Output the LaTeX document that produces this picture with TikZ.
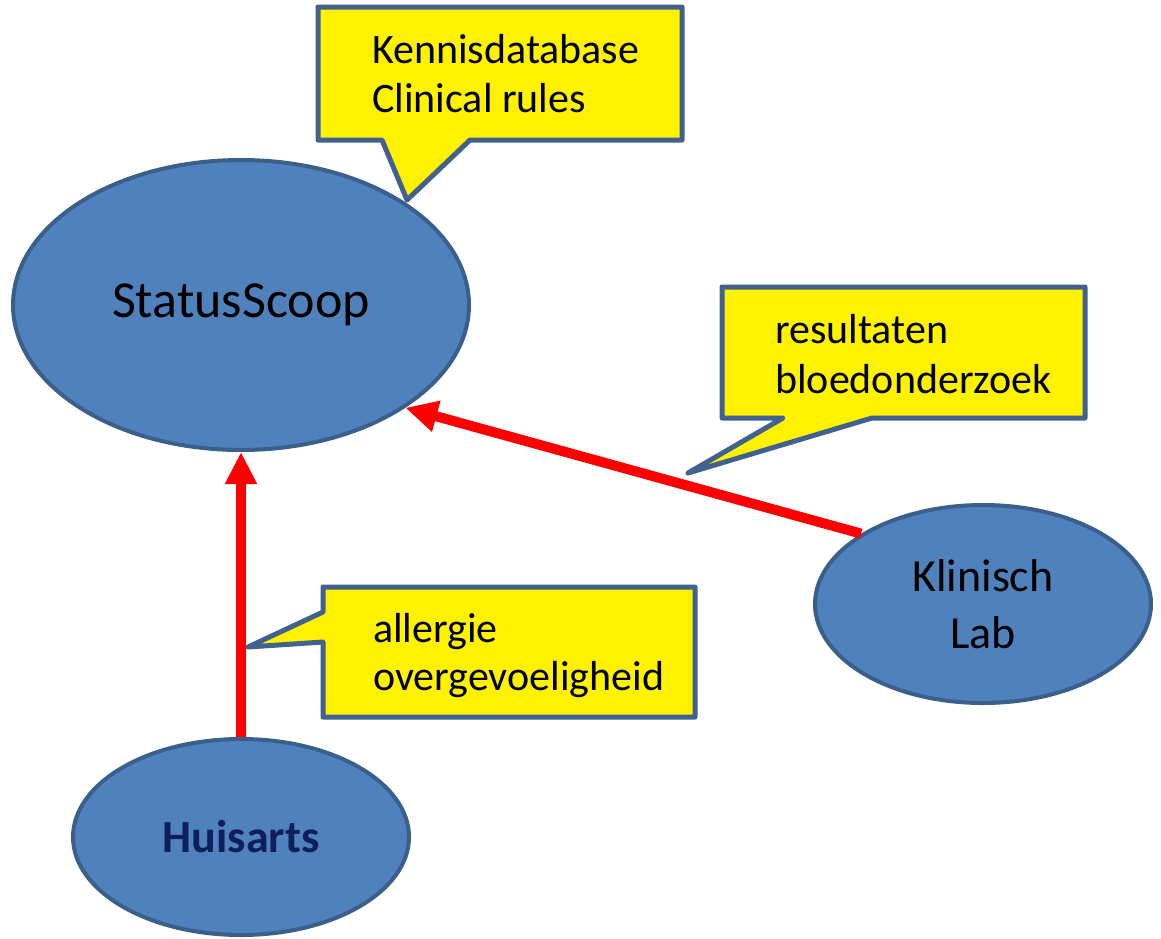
\documentclass[tikz,border=0pt]{standalone}
\usepackage{fontspec}
\setmainfont{Carlito}
\usetikzlibrary{arrows.meta,shapes.geometric}
\definecolor{ovalfill}{HTML}{4F81BD}
\definecolor{ovaledge}{HTML}{3A5F8B}
\definecolor{calledge}{HTML}{41618E}
\definecolor{navy}{HTML}{0F1F5C}
\tikzset{
  oval/.style={ellipse, fill=ovalfill, draw=ovaledge, line width=4pt, inner sep=0pt},
  bubble/.style={fill=yellow, draw=calledge, line width=5pt, line join=round},
  linetext/.style={anchor=base west, inner sep=0pt, font=\fontsize{42}{50}\selectfont},
  redarrow/.style={draw=red, line width=10pt, -{Triangle[length=32pt,width=30pt]}}
}
\begin{document}
\begin{tikzpicture}[x=1pt,y=-1pt]
\useasboundingbox (0,0) rectangle (1161,938);

% ovals
\node[oval, minimum width=456pt, minimum height=290pt, font=\fontsize{52}{60}\selectfont] (ss) at (241,305) {\raisebox{-4pt}{StatusScoop}};
\node[oval, minimum width=336pt, minimum height=196pt, font=\fontsize{46}{56}\selectfont\bfseries, text=navy] (hu) at (241,837) {\raisebox{-3pt}{Huisarts}};
\node[oval, minimum width=336pt, minimum height=198pt, align=center, font=\fontsize{46}{57}\selectfont] (kl) at (983,604) {Klinisch\\Lab};

% callouts
\draw[bubble] (318,7) -- (682,7) -- (682,140) -- (470,140) -- (407,200) -- (382,140) -- (318,140) -- cycle;
\node[linetext] (c1a) at (372,63) {Kennisdatabase};
\node[linetext] (c1b) at (372,112) {Clinical rules};

\draw[bubble] (722,287) -- (1085,287) -- (1085,418) -- (872,418) -- (688,473) -- (783,418) -- (722,418) -- cycle;
\node[linetext] (c2a) at (775,343) {resultaten};
\node[linetext] (c2b) at (775,393) {bloedonderzoek};

% arrows
\draw[redarrow] (hu) -- (ss);
\draw[redarrow] (kl.150) -- (ss.-32);

\draw[bubble] (323,587) -- (695,587) -- (695,717) -- (323,717) -- (323,642) -- (248,647) -- (323,612) -- cycle;
\node[linetext] (c3a) at (373,642) {allergie};
\node[linetext] (c3b) at (373,690) {overgevoeligheid};
\end{tikzpicture}
\end{document}
